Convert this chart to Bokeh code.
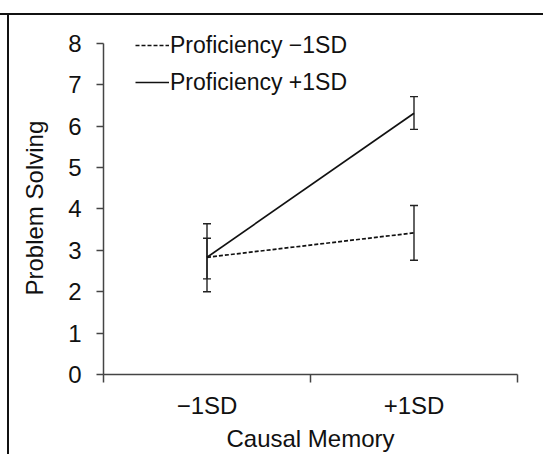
from bokeh.plotting import figure
from bokeh.models import (ColumnDataSource, Whisker, TeeHead, FixedTicker, Range1d,
                          Legend, LegendItem, Title)
from bokeh.embed import file_html
from bokeh.resources import INLINE

# ---- data ----
categories = ["\u22121SD", "+1SD"]
low_mean = [2.83, 3.42]
low_lower = [2.00, 2.76]
low_upper = [3.64, 4.08]
high_mean = [2.83, 6.31]
high_lower = [2.31, 5.92]
high_upper = [3.29, 6.71]
y_ticks = [0, 1, 2, 3, 4, 5, 6, 7, 8]
series_names = ["Proficiency \u22121SD", "Proficiency +1SD"]
x_title = "Causal Memory"
y_title = "Problem Solving"

xpos = [i + 0.5 for i in range(len(categories))]
bounds = [float(i) for i in range(len(categories) + 1)]

FONT = "Liberation Sans"
FS = "24px"

p = figure(width=543, height=454, output_backend="svg", toolbar_location=None,
           x_range=Range1d(0, len(categories)), y_range=Range1d(0, 8.5),
           min_border_left=103, min_border_right=26, min_border_top=22,
           min_border_bottom=79)
p.border_fill_color = None
p.background_fill_color = None
p.styles = {"background": "linear-gradient(#111,#111) 0 13px / 100% 2px no-repeat, "
                          "linear-gradient(#111,#111) 7px 13px / 2px 100% no-repeat"}
p.outline_line_color = None
p.grid.grid_line_color = None

low_src = ColumnDataSource(dict(x=xpos, y=low_mean, lower=low_lower, upper=low_upper))
high_src = ColumnDataSource(dict(x=xpos, y=high_mean, lower=high_lower, upper=high_upper))

for src in (low_src, high_src):
    w = Whisker(source=src, base="x", upper="upper", lower="lower", dimension="height",
                line_color="#222222", line_width=1.4,
                upper_head=TeeHead(size=8, line_color="#222222", line_width=1.4),
                lower_head=TeeHead(size=8, line_color="#222222", line_width=1.4))
    p.add_layout(w)

r_low = p.line("x", "y", source=low_src, line_color="#111111", line_width=1.7,
               line_dash="4 2")
r_high = p.line("x", "y", source=high_src, line_color="#111111", line_width=1.7)

# axes
xa = p.xaxis[0]
xa.ticker = FixedTicker(ticks=xpos, minor_ticks=bounds)
xa.major_label_overrides = {xpos[i]: categories[i] for i in range(len(categories))}
xa.major_tick_out = 0
xa.major_tick_in = 0
xa.minor_tick_out = 8
xa.minor_tick_in = 0
xa.minor_tick_line_color = "#444444"
xa.minor_tick_line_width = 1.5
xa.axis_label = x_title
xa.major_label_standoff = 9
xa.axis_label_standoff = 3

ya = p.yaxis[0]
ya.ticker = FixedTicker(ticks=y_ticks)
ya.bounds = (0, 8)
ya.major_tick_out = 7
ya.major_tick_in = 0
ya.minor_tick_out = 0
ya.minor_tick_in = 0
ya.major_tick_line_color = "#444444"
ya.major_tick_line_width = 1.5
ya.major_label_standoff = 15

for ax in (xa, ya):
    ax.axis_line_color = "#444444"
    ax.axis_line_width = 1.5
    ax.major_label_text_font = FONT
    ax.major_label_text_font_size = FS
    ax.major_label_text_color = "#111111"
    ax.axis_label_text_font = FONT
    ax.axis_label_text_font_size = FS
    ax.axis_label_text_font_style = "normal"
    ax.axis_label_text_color = "#111111"

# y-axis title, centred on the 0..8 axis span (not on the taller frame)
p.add_layout(Title(text=y_title, align="left", offset=79, standoff=36,
                   text_font=FONT, text_font_size=FS, text_font_style="normal",
                   text_color="#111111"), "left")

legend = Legend(items=[LegendItem(label=series_names[0], renderers=[r_low]),
                       LegendItem(label=series_names[1], renderers=[r_high])],
                location=(32, 277), glyph_width=34, glyph_height=30, label_height=30,
                label_standoff=1, spacing=7, padding=0, margin=0,
                border_line_color=None, background_fill_alpha=0,
                label_text_font=FONT, label_text_font_size="23px",
                label_text_color="#111111")
p.add_layout(legend, "center")

open("out.html", "w").write(file_html(p, INLINE))
